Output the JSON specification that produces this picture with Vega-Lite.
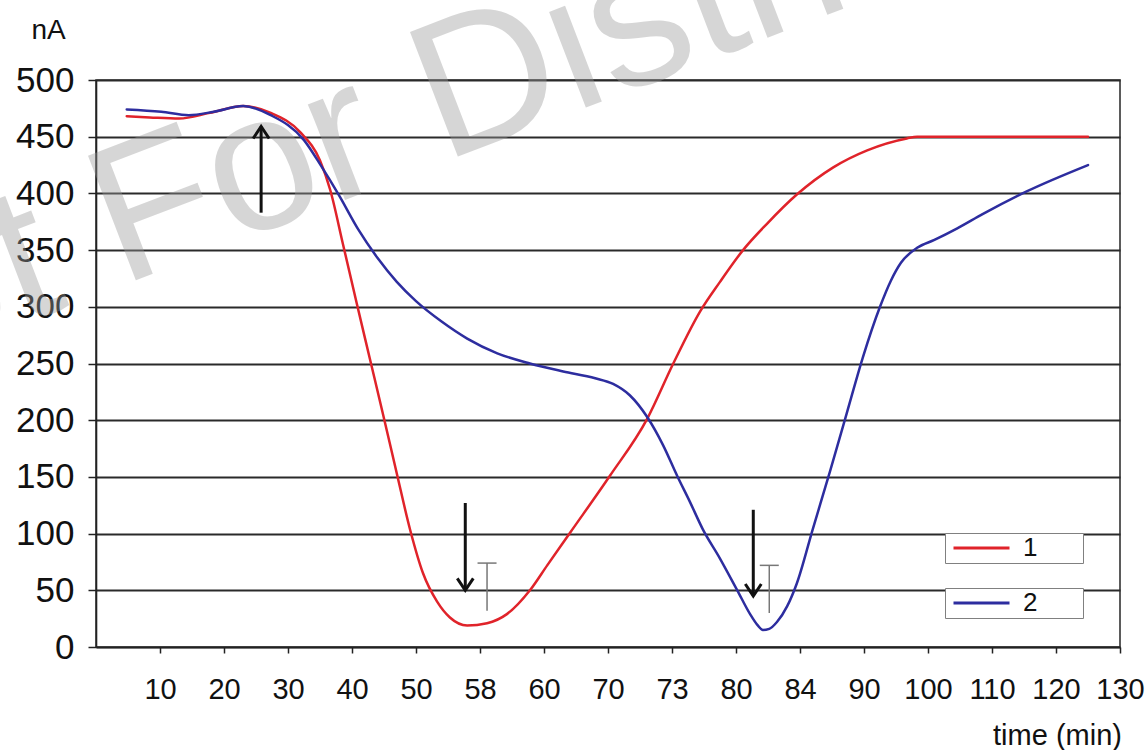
{
  "$schema": "https://vega.github.io/schema/vega-lite/v6.json",
  "width": 1024,
  "height": 567,
  "autosize": {"type": "none"},
  "padding": {"left": 96, "top": 80, "right": 28, "bottom": 103},
  "background": "white",
  "config": {
    "font": "Liberation Sans",
    "view": {"stroke": "#333", "strokeWidth": 1.6}
  },
  "datasets": {
    "curves": [
      {"series": "1", "slot": 0.48, "nA": 468},
      {"series": "1", "slot": 0.84, "nA": 467},
      {"series": "1", "slot": 1.30, "nA": 466},
      {"series": "1", "slot": 1.78, "nA": 471},
      {"series": "1", "slot": 2.30, "nA": 477},
      {"series": "1", "slot": 2.73, "nA": 471},
      {"series": "1", "slot": 3.19, "nA": 454},
      {"series": "1", "slot": 3.50, "nA": 429},
      {"series": "1", "slot": 3.66, "nA": 403},
      {"series": "1", "slot": 3.86, "nA": 355},
      {"series": "1", "slot": 4.07, "nA": 304},
      {"series": "1", "slot": 4.28, "nA": 254},
      {"series": "1", "slot": 4.49, "nA": 204},
      {"series": "1", "slot": 4.70, "nA": 153},
      {"series": "1", "slot": 4.91, "nA": 103},
      {"series": "1", "slot": 5.11, "nA": 65},
      {"series": "1", "slot": 5.33, "nA": 40},
      {"series": "1", "slot": 5.53, "nA": 26},
      {"series": "1", "slot": 5.80, "nA": 19},
      {"series": "1", "slot": 6.11, "nA": 21},
      {"series": "1", "slot": 6.42, "nA": 29},
      {"series": "1", "slot": 6.78, "nA": 50},
      {"series": "1", "slot": 7.05, "nA": 72},
      {"series": "1", "slot": 7.41, "nA": 101},
      {"series": "1", "slot": 8.03, "nA": 151},
      {"series": "1", "slot": 8.61, "nA": 201},
      {"series": "1", "slot": 9.02, "nA": 250},
      {"series": "1", "slot": 9.44, "nA": 296},
      {"series": "1", "slot": 9.75, "nA": 322},
      {"series": "1", "slot": 10.11, "nA": 350},
      {"series": "1", "slot": 10.48, "nA": 373},
      {"series": "1", "slot": 10.95, "nA": 399},
      {"series": "1", "slot": 11.52, "nA": 423},
      {"series": "1", "slot": 12.05, "nA": 438},
      {"series": "1", "slot": 12.67, "nA": 448.5},
      {"series": "1", "slot": 12.83, "nA": 450},
      {"series": "1", "slot": 14.13, "nA": 450},
      {"series": "1", "slot": 15.50, "nA": 450},
      {"series": "2", "slot": 0.48, "nA": 474},
      {"series": "2", "slot": 1.02, "nA": 472},
      {"series": "2", "slot": 1.45, "nA": 469},
      {"series": "2", "slot": 1.84, "nA": 472},
      {"series": "2", "slot": 2.30, "nA": 477},
      {"series": "2", "slot": 2.73, "nA": 469},
      {"series": "2", "slot": 3.25, "nA": 447},
      {"series": "2", "slot": 3.52, "nA": 424},
      {"series": "2", "slot": 3.80, "nA": 398},
      {"series": "2", "slot": 4.10, "nA": 368},
      {"series": "2", "slot": 4.40, "nA": 343},
      {"series": "2", "slot": 4.70, "nA": 322},
      {"series": "2", "slot": 5.00, "nA": 305},
      {"series": "2", "slot": 5.40, "nA": 287},
      {"series": "2", "slot": 5.80, "nA": 272},
      {"series": "2", "slot": 6.27, "nA": 259},
      {"series": "2", "slot": 6.78, "nA": 250},
      {"series": "2", "slot": 7.30, "nA": 243},
      {"series": "2", "slot": 7.80, "nA": 237},
      {"series": "2", "slot": 8.08, "nA": 232},
      {"series": "2", "slot": 8.34, "nA": 222},
      {"series": "2", "slot": 8.61, "nA": 203},
      {"series": "2", "slot": 8.86, "nA": 178},
      {"series": "2", "slot": 9.08, "nA": 151},
      {"series": "2", "slot": 9.28, "nA": 128},
      {"series": "2", "slot": 9.48, "nA": 104},
      {"series": "2", "slot": 9.75, "nA": 78},
      {"series": "2", "slot": 10.02, "nA": 50},
      {"series": "2", "slot": 10.22, "nA": 29},
      {"series": "2", "slot": 10.34, "nA": 19},
      {"series": "2", "slot": 10.42, "nA": 15},
      {"series": "2", "slot": 10.52, "nA": 16},
      {"series": "2", "slot": 10.64, "nA": 22},
      {"series": "2", "slot": 10.80, "nA": 36},
      {"series": "2", "slot": 10.95, "nA": 56},
      {"series": "2", "slot": 11.20, "nA": 104},
      {"series": "2", "slot": 11.47, "nA": 155},
      {"series": "2", "slot": 11.73, "nA": 206},
      {"series": "2", "slot": 11.98, "nA": 255},
      {"series": "2", "slot": 12.25, "nA": 300},
      {"series": "2", "slot": 12.42, "nA": 323},
      {"series": "2", "slot": 12.58, "nA": 339},
      {"series": "2", "slot": 12.83, "nA": 352},
      {"series": "2", "slot": 13.10, "nA": 359},
      {"series": "2", "slot": 13.45, "nA": 369},
      {"series": "2", "slot": 13.86, "nA": 382},
      {"series": "2", "slot": 14.55, "nA": 402},
      {"series": "2", "slot": 15.50, "nA": 425}
    ],
    "arrows": [
      {"slot": 2.58, "nA": 459, "nA2": 383, "dir": "up"},
      {"slot": 5.77, "nA": 50, "nA2": 127, "dir": "down"},
      {"slot": 10.27, "nA": 45, "nA2": 121, "dir": "down"}
    ],
    "bars": [
      {"slot": 6.11, "nA": 74, "nA2": 32},
      {"slot": 10.52, "nA": 72, "nA2": 30}
    ],
    "watermark": [
      {"slot": 7.39, "nA": 470, "w": "Not For Distribution"}
    ]
  },
  "encoding": {
    "x": {
      "field": "slot",
      "type": "quantitative",
      "scale": {"domain": [0, 16], "nice": false, "zero": false},
      "axis": {
        "title": "time (min)",
        "values": [1, 2, 3, 4, 5, 6, 7, 8, 9, 10, 11, 12, 13, 14, 15, 16],
        "labelExpr": "['','10','20','30','40','50','58','60','70','73','80','84','90','100','110','120','130'][datum.value]",
        "grid": false,
        "domainColor": "#222",
        "domainWidth": 1.6,
        "tickColor": "#222",
        "tickSize": 6,
        "tickWidth": 1.5,
        "labelFontSize": 29,
        "labelColor": "#111",
        "labelPadding": 22,
        "labelFlush": false,
        "labelOverlap": false,
        "titleX": 961,
        "titleY": 88,
        "titleAlign": "center",
        "titleBaseline": "middle",
        "titleFontSize": 29,
        "titleFontWeight": "normal",
        "titleColor": "#111"
      }
    },
    "y": {
      "field": "nA",
      "type": "quantitative",
      "scale": {"domain": [0, 500], "nice": false},
      "axis": {
        "title": "nA",
        "values": [0, 50, 100, 150, 200, 250, 300, 350, 400, 450, 500],
        "grid": true,
        "gridColor": "#2a2a2a",
        "gridWidth": 1.8,
        "gridOpacity": 1,
        "domainColor": "#222",
        "domainWidth": 1.6,
        "tickColor": "#222",
        "tickSize": 8,
        "tickWidth": 1.5,
        "labelFontSize": 35,
        "labelColor": "#111",
        "labelPadding": 14,
        "labelOverlap": false,
        "labelFlush": false,
        "titleAngle": 0,
        "titleX": -48,
        "titleY": -50,
        "titleAlign": "center",
        "titleBaseline": "middle",
        "titleFontSize": 28,
        "titleFontWeight": "normal",
        "titleColor": "#111"
      }
    }
  },
  "layer": [
    {
      "data": {"name": "watermark"},
      "mark": {"type": "text", "angle": -21, "fontSize": 194, "font": "Liberation Sans", "color": "#9a9a9a", "opacity": 0.4, "align": "center", "baseline": "alphabetic"},
      "encoding": {
        "text": {"field": "w", "type": "nominal"}
      }
    },
    {
      "data": {"name": "curves"},
      "transform": [{"filter": "datum.series == '1'"}],
      "mark": {"type": "line", "interpolate": "monotone", "strokeWidth": 2.5, "strokeJoin": "round", "strokeCap": "round"},
      "encoding": {
        "color": {
          "field": "series",
          "type": "nominal",
          "scale": {"domain": ["1"], "range": ["#e0232a"]},
          "legend": {
            "title": null,
            "orient": "none",
            "legendX": 849,
            "legendY": 453,
            "symbolType": "stroke",
            "symbolSize": 3136,
            "symbolStrokeWidth": 3,
            "symbolOffset": 5,
            "clipHeight": 26,
            "labelFontSize": 26,
            "labelFont": "Liberation Sans",
            "labelColor": "#111",
            "labelOffset": 12,
            "labelExpr": "datum.label + '\u00a0\u00a0\u00a0\u00a0\u00a0\u00a0\u200b'",
            "padding": 2,
            "strokeColor": "#808080",
            "fillColor": "white"
          }
        }
      }
    },
    {
      "data": {"name": "curves"},
      "transform": [{"filter": "datum.series == '2'"}],
      "mark": {"type": "line", "interpolate": "monotone", "strokeWidth": 2.5, "strokeJoin": "round", "strokeCap": "round"},
      "encoding": {
        "color": {
          "field": "series",
          "type": "nominal",
          "scale": {"domain": ["2"], "range": ["#2d2d9f"]},
          "legend": {
            "title": null,
            "orient": "none",
            "legendX": 849,
            "legendY": 508,
            "symbolType": "stroke",
            "symbolSize": 3136,
            "symbolStrokeWidth": 3,
            "symbolOffset": 5,
            "clipHeight": 26,
            "labelFontSize": 26,
            "labelFont": "Liberation Sans",
            "labelColor": "#111",
            "labelOffset": 12,
            "labelExpr": "datum.label + '\u00a0\u00a0\u00a0\u00a0\u00a0\u00a0\u200b'",
            "padding": 2,
            "strokeColor": "#808080",
            "fillColor": "white"
          }
        }
      }
    },
    {
      "data": {"name": "arrows"},
      "mark": {"type": "rule", "color": "#111", "strokeWidth": 3},
      "encoding": {"y2": {"field": "nA2"}}
    },
    {
      "data": {"name": "arrows"},
      "mark": {"type": "point", "filled": false, "color": "#111", "strokeWidth": 3, "opacity": 1, "size": 256},
      "encoding": {
        "shape": {
          "field": "dir",
          "type": "nominal",
          "scale": {"domain": ["up", "down"], "range": ["M -1 1.5 L 0 0 L 1 1.5", "M -1 -1.5 L 0 0 L 1 -1.5"]},
          "legend": null
        }
      }
    },
    {
      "data": {"name": "bars"},
      "mark": {"type": "rule", "color": "#777", "strokeWidth": 1.5},
      "encoding": {"y2": {"field": "nA2"}}
    },
    {
      "data": {"name": "bars"},
      "mark": {"type": "point", "filled": false, "color": "#777", "strokeWidth": 1.5, "opacity": 1, "size": 361, "shape": "M -1 0 L 1 0"}
    }
  ],
  "resolve": {"scale": {"color": "independent"}}
}
